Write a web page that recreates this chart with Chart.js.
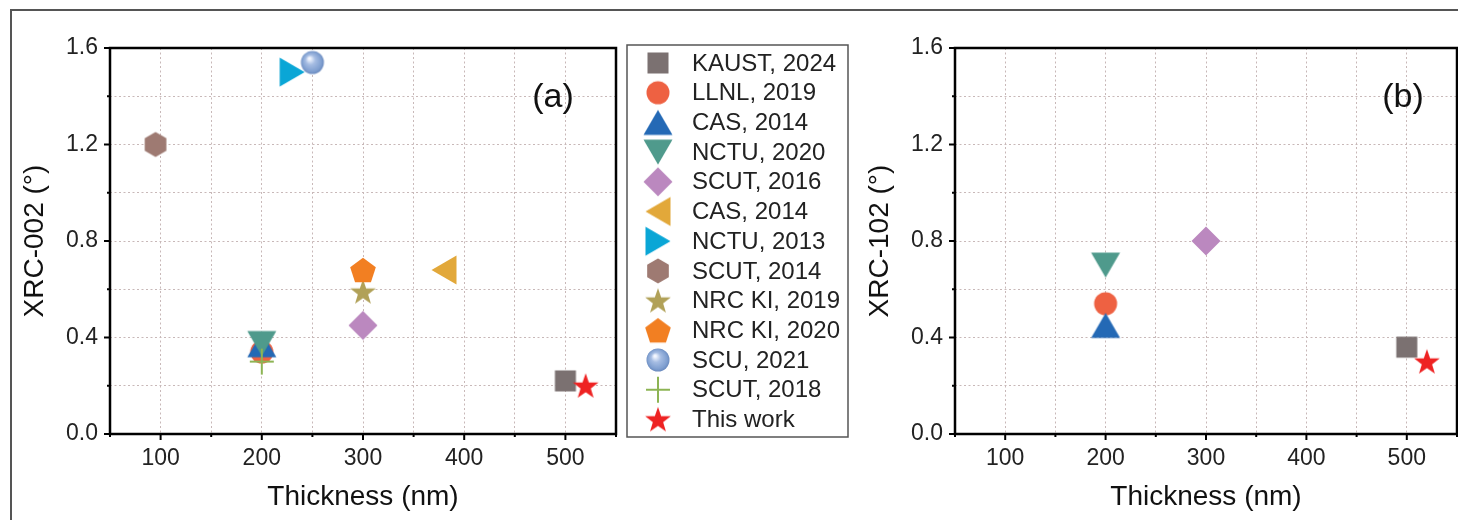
<!DOCTYPE html>
<html>
<head>
<meta charset="utf-8">
<script src="https://cdn.jsdelivr.net/npm/chart.js"></script>
<style>
  html, body { margin: 0; padding: 0; background: #fff; overflow: hidden; }
  #page { position: relative; width: 1458px; height: 520px; overflow: hidden; }
  #frame { position: absolute; left: 10px; top: 9px; width: 1600px; height: 700px; border: 2px solid #555; }
  #chartA { position: absolute; left: 0; top: 0; }
  #chartB { position: absolute; left: 850px; top: 0; }
</style>
</head>
<body>
<div id="page">
  <div id="frame"></div>
  <canvas id="chartA" width="850" height="520"></canvas>
  <canvas id="chartB" width="620" height="520"></canvas>
</div>
<script>
  'use strict';

  // ---- data ----
  var groups = ['KAUST, 2024', 'LLNL, 2019', 'CAS, 2014', 'NCTU, 2020', 'SCUT, 2016', 'CAS, 2014',
    'NCTU, 2013', 'SCUT, 2014', 'NRC KI, 2019', 'NRC KI, 2020', 'SCU, 2021', 'SCUT, 2018', 'This work'];
  var thicknessA = [500, 200, 200, 200, 300, 380, 230, 95, 300, 300, 250, 200, 520];
  var xrc002 = [0.22, 0.34, 0.37, 0.375, 0.45, 0.68, 1.50, 1.20, 0.59, 0.68, 1.54, 0.30, 0.20];
  var thicknessB = [500, 200, 200, 200, 300, null, null, null, null, null, null, null, 520];
  var xrc102 = [0.36, 0.54, 0.45, 0.70, 0.80, null, null, null, null, null, null, null, 0.30];
  var xTickLabels = [100, 200, 300, 400, 500];
  var yTickLabels = [0, 0.4, 0.8, 1.2, 1.6];

  // ---- marker look ----
  var shapes = ['square', 'circle', 'up', 'down', 'diamond', 'left', 'right', 'hexagon', 'star', 'pentagon', 'sphere', 'plus', 'star'];
  var colors = ['#7b7171', '#ee6142', '#2469b5', '#4f9a8c', '#bb88bf', '#e2a83a', '#0aa6d6',
    '#9e7a72', '#b1a158', '#f27f22', '#7f9fd0', '#8db454', '#ee2222'];

  Chart.defaults.font.family = '"Liberation Sans", Arial, sans-serif';
  Chart.defaults.color = '#222';

  function poly(g, pts) {
    g.beginPath();
    pts.forEach(function (p, i) {
      if (i === 0) { g.moveTo(p[0], p[1]); } else { g.lineTo(p[0], p[1]); }
    });
    g.closePath();
    g.fill();
  }

  function ring(n, r, start, dy) {
    var pts = [], k, a;
    for (k = 0; k < n; k++) {
      a = (start + k * 360 / n) * Math.PI / 180;
      pts.push([r * Math.cos(a), r * Math.sin(a) + (dy || 0)]);
    }
    return pts;
  }

  function makeMarker(shape, color) {
    var c = document.createElement('canvas'), g, k, a, pts, grad;
    c.width = 34;
    c.height = 34;
    g = c.getContext('2d');
    g.translate(17, 17);
    g.fillStyle = color;
    g.strokeStyle = color;
    switch (shape) {
    case 'square':
      g.fillRect(-10.5, -10.5, 21, 21);
      break;
    case 'circle':
      g.beginPath();
      g.arc(0, 0, 11.5, 0, 2 * Math.PI);
      g.fill();
      break;
    case 'up':
    case 'down':
    case 'left':
    case 'right':
      g.rotate({up: 0, down: 180, left: -90, right: 90}[shape] * Math.PI / 180);
      poly(g, [[0, -12.5], [14.5, 12.5], [-14.5, 12.5]]);
      break;
    case 'diamond':
      poly(g, [[0, -14.5], [14.5, 0], [0, 14.5], [-14.5, 0]]);
      break;
    case 'hexagon':
      poly(g, ring(6, 12.5, -90));
      break;
    case 'pentagon':
      poly(g, ring(5, 13.5, -90, 1.3));
      break;
    case 'star':
      pts = [];
      for (k = 0; k < 10; k++) {
        a = (-90 + k * 36) * Math.PI / 180;
        pts.push([(k % 2 ? 5.4 : 13.5) * Math.cos(a), (k % 2 ? 5.4 : 13.5) * Math.sin(a) + 1]);
      }
      poly(g, pts);
      break;
    case 'sphere':
      grad = g.createRadialGradient(-3, -4, 1, 0, 0, 12);
      grad.addColorStop(0, '#f2f6ff');
      grad.addColorStop(0.35, '#a6bde3');
      grad.addColorStop(0.8, color);
      grad.addColorStop(1, '#6686bb');
      g.fillStyle = grad;
      g.beginPath();
      g.arc(0, 0, 11.5, 0, 2 * Math.PI);
      g.fill();
      break;
    case 'plus':
      g.lineWidth = 2;
      g.beginPath();
      g.moveTo(-12, 0); g.lineTo(12, 0);
      g.moveTo(0, -13); g.lineTo(0, 13);
      g.stroke();
      break;
    }
    return c;
  }

  var markers = shapes.map(function (s, i) { return makeMarker(s, colors[i]); });

  function buildDatasets(xs, ys) {
    return groups.map(function (name, i) {
      return {
        label: name,
        data: xs[i] === null ? [] : [{x: xs[i], y: ys[i]}],
        pointStyle: markers[i],
        pointRadius: 12,
        order: groups.length - i // later entries on top, like the original
      };
    });
  }

  // frame box + outward tick marks (long on labelled ticks, short between)
  var framePlugin = {
    id: 'frame',
    afterDraw: function (chart) {
      var ctx = chart.ctx, a = chart.chartArea, sx = chart.scales.x, sy = chart.scales.y;
      ctx.save();
      ctx.strokeStyle = '#000';
      ctx.lineWidth = 2;
      sx.ticks.forEach(function (t) {
        var px = sx.getPixelForValue(t.value), len = xTickLabels.indexOf(t.value) >= 0 ? 6 : 3;
        ctx.beginPath();
        ctx.moveTo(px, a.bottom);
        ctx.lineTo(px, a.bottom + len);
        ctx.stroke();
      });
      sy.ticks.forEach(function (t) {
        var py = sy.getPixelForValue(t.value), major = yTickLabels.some(function (v) { return Math.abs(v - t.value) < 1e-6; });
        ctx.beginPath();
        ctx.moveTo(a.left, py);
        ctx.lineTo(a.left - (major ? 6 : 3), py);
        ctx.stroke();
      });
      ctx.lineWidth = 2.5;
      ctx.strokeRect(a.left, a.top, a.right - a.left, a.bottom - a.top);
      ctx.restore();
    }
  };

  var panelLabelPlugin = {
    id: 'panelLabel',
    afterDraw: function (chart, args, opts) {
      var ctx = chart.ctx, a = chart.chartArea;
      ctx.save();
      ctx.font = '34px "Liberation Sans", Arial, sans-serif';
      ctx.fillStyle = '#111';
      ctx.textAlign = 'center';
      ctx.textBaseline = 'middle';
      ctx.fillText(opts.text, a.right + opts.dx, a.top + opts.dy);
      ctx.restore();
    }
  };

  var boxLegendPlugin = {
    id: 'boxLegend',
    afterDraw: function (chart, args, opts) {
      if (!opts.show) { return; }
      var ctx = chart.ctx, a = chart.chartArea;
      var left = a.right + opts.dx, top = a.top + opts.dy;
      ctx.save();
      ctx.strokeStyle = '#555';
      ctx.lineWidth = 1.5;
      ctx.strokeRect(left, top, opts.width, opts.height);
      ctx.font = '24px "Liberation Sans", Arial, sans-serif';
      ctx.fillStyle = '#222';
      ctx.textBaseline = 'middle';
      chart.data.datasets.forEach(function (ds, i) {
        var cy = top + opts.first + i * opts.row, img = ds.pointStyle;
        ctx.drawImage(img, left + opts.markX - img.width / 2, cy - img.height / 2);
        ctx.fillText(ds.label, left + opts.textX, cy + 1);
      });
      ctx.restore();
    }
  };

  function panelOptions(yTitle, titlePad, label, legend) {
    return {
      responsive: false,
      animation: false,
      events: [],
      layout: {padding: {top: 48, right: label.padRight, left: 0, bottom: 0}},
      scales: {
        x: {
          type: 'linear',
          min: 50,
          max: 550,
          afterFit: function (s) {
            s.height = 86;
            s.paddingLeft = 0;
            s.paddingRight = 0;
          },
          ticks: {
            stepSize: 50,
            padding: 11,
            autoSkip: false,
            maxRotation: 0,
            font: {size: 23},
            color: '#222',
            callback: function (v) { return xTickLabels.indexOf(v) >= 0 ? String(v) : ''; }
          },
          grid: {color: '#c8b8b8', lineWidth: 1, drawTicks: false},
          border: {display: false, dash: [2, 2.5]},
          title: {display: true, text: 'Thickness (nm)', font: {size: 28}, color: '#111', padding: {top: 0, bottom: 6}}
        },
        y: {
          type: 'linear',
          min: 0,
          max: 1.6,
          afterFit: function (s) { s.width = label.axisW; },
          ticks: {
            stepSize: 0.2,
            padding: 12,
            autoSkip: false,
            font: {size: 23},
            color: '#222',
            callback: function (v) {
              return yTickLabels.some(function (m) { return Math.abs(m - v) < 1e-6; }) ? v.toFixed(1) : '';
            }
          },
          grid: {color: '#c8b8b8', lineWidth: 1, drawTicks: false},
          border: {display: false, dash: [2, 2.5]},
          title: {display: true, text: yTitle, font: {size: 28}, color: '#111', padding: {top: titlePad, bottom: 0}}
        }
      },
      plugins: {
        legend: {display: false},
        tooltip: {enabled: false},
        panelLabel: {text: label.text, dx: label.dx, dy: 50},
        boxLegend: legend
      }
    };
  }

  new Chart(document.getElementById('chartA'), {
    type: 'scatter',
    data: {datasets: buildDatasets(thicknessA, xrc002)},
    options: panelOptions('XRC-002 (°)', 18, {text: '(a)', dx: -63, padRight: 234, axisW: 110},
      {show: true, dx: 11, dy: -3, width: 221, height: 392, first: 18, row: 29.7, markX: 31, textX: 65}),
    plugins: [framePlugin, panelLabelPlugin, boxLegendPlugin]
  });

  new Chart(document.getElementById('chartB'), {
    type: 'scatter',
    data: {datasets: buildDatasets(thicknessB, xrc102)},
    options: panelOptions('XRC-102 (°)', 13, {text: '(b)', dx: -54, padRight: 1, axisW: 105},
      {show: false}),
    plugins: [framePlugin, panelLabelPlugin, boxLegendPlugin]
  });
</script>
</body>
</html>
